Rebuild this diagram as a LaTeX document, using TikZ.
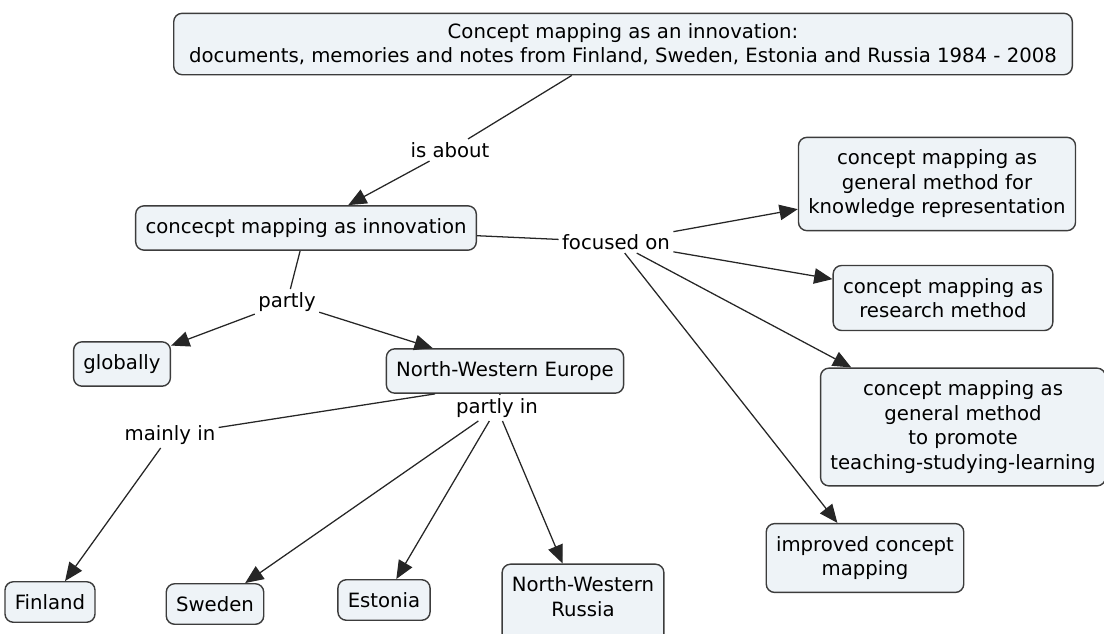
\documentclass[tikz,border=0pt]{standalone}
\usepackage{fontspec}
\setmainfont{DejaVu Sans}
\usetikzlibrary{arrows.meta}
\definecolor{cm_fill}{RGB}{238, 243, 247}
\definecolor{cm_line}{RGB}{60, 60, 60}
\tikzstyle{cn}=[rectangle,rounded corners=6pt,fill=cm_fill,draw=cm_line,
  line width=1pt,inner xsep=7pt,inner ysep=9pt,align=center,
  font=\fontsize{14}{17.4}\selectfont]
\tikzstyle{lk}=[inner sep=2pt,font=\fontsize{14}{17.4}\selectfont]
\tikzstyle{ar}=[-{Triangle[length=13pt,width=11pt]}]

\begin{document}
\begin{tikzpicture}[x=0.025cm,y=-0.025cm,line width=0.9pt,draw=black!85]
    \useasboundingbox (0,0) rectangle (1104,633);
    \node [style=cn,inner xsep=11pt,inner ysep=7pt] (ttl) at (623,44) {Concept mapping as an innovation:\\documents, memories and notes from Finland, Sweden, Estonia and Russia 1984 - 2008};
    \node [style=cn] (innov) at (306,228) {concecpt mapping as innovation};
    \node [style=cn] (know) at (937,184) {concept mapping as\\general method for\\knowledge representation};
    \node [style=cn] (research) at (943,298) {concept mapping as\\research method};
    \node [style=cn] (teach) at (963,427) {concept mapping as\\general method\\to promote\\teaching-studying-learning};
    \node [style=cn] (improved) at (865,558) {improved concept\\mapping};
    \node [style=cn] (global) at (122,364) {globally};
    \node [style=cn] (nweu) at (505,371) {North-Western Europe};
    \node [style=cn] (fin) at (50,602) {Finland};
    \node [style=cn] (swe) at (215,604) {Sweden};
    \node [style=cn] (est) at (384,600) {Estonia};
    \node [style=cn,text depth=22pt] (rus) at (583,612) {North-Western\\Russia};
    \node [style=lk] (isabout) at (450,150) {is about};
    \node [style=lk] (focused) at (616,242) {focused on};
    \node [style=lk] (partly) at (287,302) {partly};
    \node [style=lk] (mainly) at (170,435) {mainly in};
    \node [style=lk] (partlyin) at (497,408) {partly in};
    \draw (ttl) to (isabout);
    \draw [style=ar] (isabout) to (innov);
    \draw (innov) to (focused);
    \draw [style=ar] (focused) to (know);
    \draw [style=ar] (focused) to (research);
    \draw [style=ar] (focused) to (teach);
    \draw [style=ar] (focused) to (improved);
    \draw (innov) to (partly);
    \draw [style=ar] (partly) to (global);
    \draw [style=ar] (partly) to (nweu);
    \draw (nweu.south -| 435,0) to (mainly);
    \draw [style=ar] (mainly) to (fin);
    \draw (nweu) to (partlyin);
    \draw [style=ar] (partlyin) to (swe);
    \draw [style=ar] (partlyin) to (est);
    \draw [style=ar] (partlyin) to (rus);
  \end{tikzpicture}
\end{document}
